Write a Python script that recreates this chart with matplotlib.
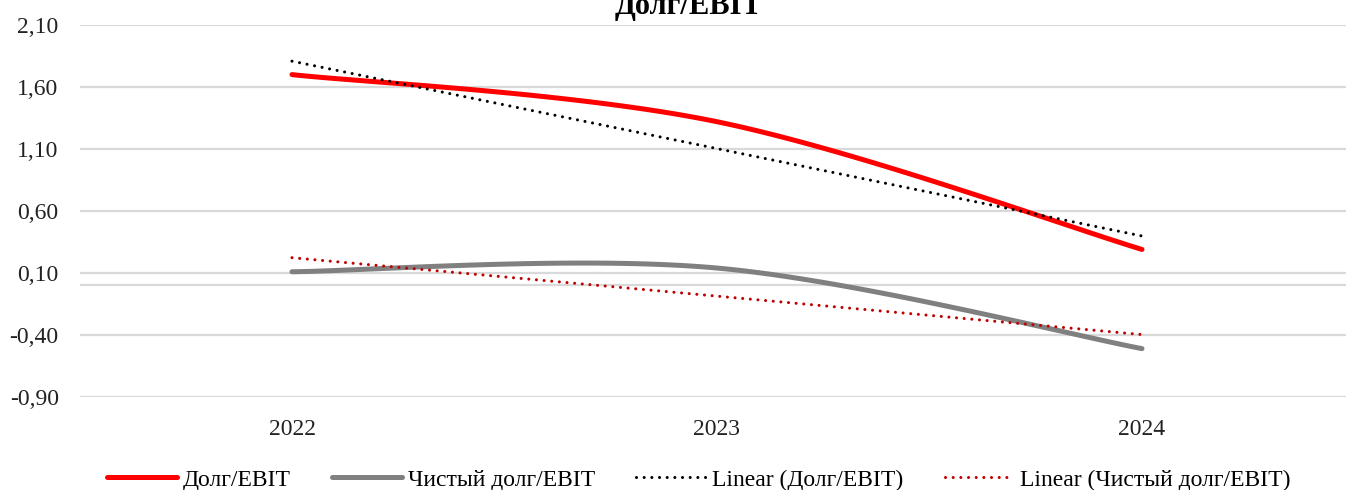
import numpy as np
import matplotlib
matplotlib.use('Agg')
from matplotlib import pyplot as plt
from matplotlib.ticker import FuncFormatter

plt.rcParams['font.family'] = ['Liberation Serif', 'DejaVu Serif']

years = ['2022', '2023', '2024']
debt_ebit = [1.70, 1.32, 0.29]
net_debt_ebit = [0.11, 0.14, -0.51]

TITLE = 'Долг/EBIT'
LABELS = ['Долг/EBIT', 'Чистый долг/EBIT', 'Linear (Долг/EBIT)', 'Linear (Чистый долг/EBIT)']


def excel_smooth(xs, ys, n=60):
    # cardinal spline like Excel's "smoothed line"
    pts = np.column_stack([xs, ys]).astype(float)
    ext = np.vstack([pts[0], pts, pts[-1]])
    out = []
    for i in range(len(pts) - 1):
        p0, p1, p2, p3 = ext[i], ext[i + 1], ext[i + 2], ext[i + 3]
        c1 = p1 + (p2 - p0) / 6.0
        c2 = p2 - (p3 - p1) / 6.0
        t = np.linspace(0, 1, n)[:, None]
        seg = ((1 - t) ** 3) * p1 + 3 * ((1 - t) ** 2) * t * c1 + 3 * (1 - t) * t ** 2 * c2 + t ** 3 * p2
        out.append(seg if i == 0 else seg[1:])
    out = np.vstack(out)
    return out[:, 0], out[:, 1]


x = np.arange(len(years))

fig = plt.figure(figsize=(13.46, 4.90), dpi=100)
ax = fig.add_axes([79.5 / 1346, 93 / 490, 1275 / 1346, 372 / 490])

ax.set_xlim(-0.5, 2.5)
ax.set_ylim(-0.90, 2.10)
ax.set_yticks(np.arange(-0.90, 2.11, 0.5))
ax.yaxis.set_major_formatter(FuncFormatter(lambda v, p: ('%.2f' % v).replace('.', ',')))
ax.set_xticks(x)
ax.set_xticklabels(years)
ax.tick_params(axis='both', length=0, labelsize=17, colors='#222222')
ax.tick_params(axis='y', pad=15)
ax.tick_params(axis='x', pad=16)
for s in ax.spines.values():
    s.set_visible(False)
ax.grid(axis='y', color='#D9D9D9', lw=1.6)
ax.axhline(0, color='#D9D9D9', lw=1.6, zorder=1)
ax.set_axisbelow(True)

sx, sy = excel_smooth(x, debt_ebit)
l1, = ax.plot(sx, sy, color='#FF0000', lw=3.6, solid_capstyle='round', zorder=3)
sx, sy = excel_smooth(x, net_debt_ebit)
l2, = ax.plot(sx, sy, color='#808080', lw=3.6, solid_capstyle='round', zorder=3)

k1, b1 = np.polyfit(x, debt_ebit, 1)
l3, = ax.plot(x, k1 * x + b1, color='black', lw=2.2, linestyle=(0, (0.01, 2.5)),
              dash_capstyle='round', zorder=4)
k2, b2 = np.polyfit(x, net_debt_ebit, 1)
l4, = ax.plot(x, k2 * x + b2, color='#C00000', lw=2.2, linestyle=(0, (0.01, 2.5)),
              dash_capstyle='round', zorder=4)

fig.text(689 / 1346, 1 - 14 / 490, TITLE, ha='center', va='baseline',
         fontsize=22, fontweight='bold')

fig.legend([l1, l2, l3, l4], LABELS, loc='center', bbox_to_anchor=(699 / 1346, 1 - 480 / 490),
           ncol=4, frameon=False, fontsize=17, handlelength=2.95, handletextpad=0.25,
           columnspacing=1.75)

fig.savefig('out.png', dpi=100)
